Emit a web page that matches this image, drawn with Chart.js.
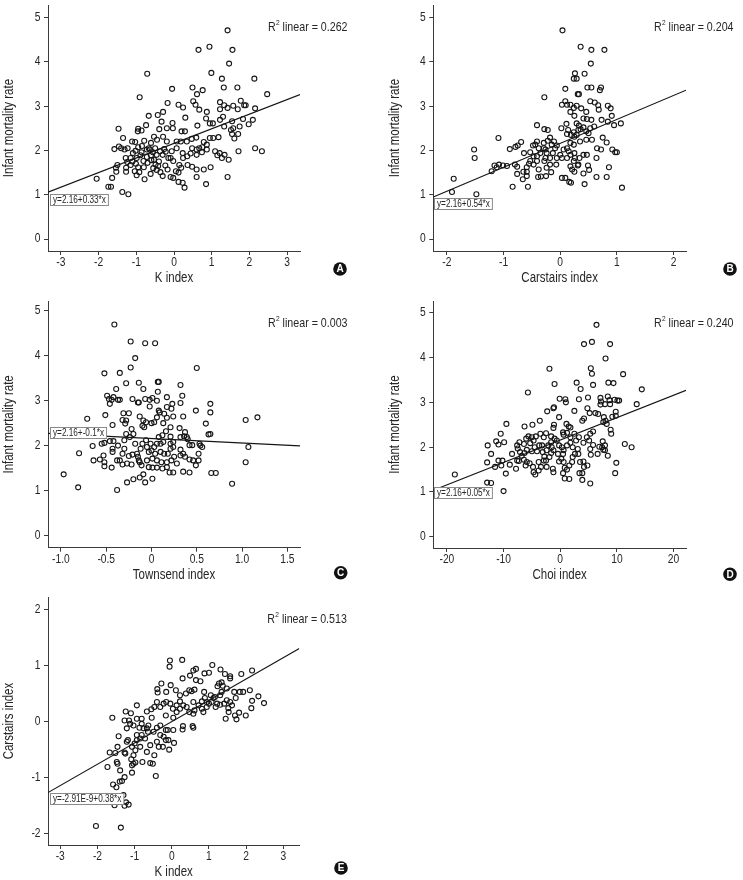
<!DOCTYPE html>
<html>
<head>
<meta charset="utf-8">
<script src="https://cdn.jsdelivr.net/npm/chart.js@4.4.1/dist/chart.umd.min.js"></script>
<style>
body{margin:0;background:#fff;width:743px;height:880px;position:relative;overflow:hidden}
canvas{position:absolute}
</style>
</head>
<body>
<canvas id="cA"></canvas>
<canvas id="cB"></canvas>
<canvas id="cC"></canvas>
<canvas id="cD"></canvas>
<canvas id="cE"></canvas>
<script>
// Arial Narrow look: Liberation Sans squeezed horizontally
var FONT = "'Liberation Sans', Arial, sans-serif";
var SQUEEZE = 0.82;

// tick values / labels
var ticksK = [-3,-2,-1,0,1,2,3];
var ticksCarstairs = [-2,-1,0,1,2];
var ticksTownsend = [-1,-0.5,0,0.5,1,1.5];
var labelsTownsend = ['-1.0','-0.5','0','0.5','1.0','1.5'];
var ticksChoi = [-20,-10,0,10,20];
var ticksImr = [0,1,2,3,4,5];

// fit lines + stats per panel (A..E)
var intercepts = [2.16, 2.16, 2.16, 2.16, -2.91e-9];
var slopes = [0.33, 0.54, -0.1, 0.05, 0.38];
var r2Values = ['0.262','0.204','0.003','0.240','0.513'];
var equations = ['y=2.16+0.33*x','y=2.16+0.54*x','y=2.16+-0.1*x','y=2.16+0.05*x','y=-2.91E-9+0.38*x'];

// A: K index vs infant mortality rate
var kImr = [[1.42,4.71],[0.65,4.27],[0.94,4.34],[1.55,4.27],[1.46,3.96],[-0.71,3.73],[0.99,3.75],[1.27,3.62],[2.13,3.62],[-0.05,3.39],[0.49,3.42],[0.76,3.36],[0.61,3.27],[1.32,3.42],[1.68,3.42],[2.47,3.27],[-0.91,3.2],[-0.17,3.07],[0.12,3.03],[0.24,2.97],[0.51,3.11],[0.57,3.03],[0.67,2.92],[1.22,3.09],[1.33,3.02],[1.42,2.96],[1.57,3.01],[1.69,2.93],[1.77,3.12],[1.86,3.02],[1.9,3.02],[2.15,2.95],[1.22,2.93],[-0.29,2.87],[-0.43,2.8],[-0.67,2.78],[-0.33,2.65],[0.3,2.74],[0.62,2.56],[0.87,2.87],[0.85,2.72],[0.95,2.61],[1.03,2.61],[1.3,2.76],[1.22,2.69],[1.33,2.54],[1.54,2.66],[1.74,2.54],[1.83,2.71],[1.98,2.59],[2.09,2.69],[-1.47,2.49],[-1.35,2.28],[-0.95,2.49],[-0.96,2.43],[-0.86,2.45],[-0.74,2.57],[-0.39,2.48],[-0.19,2.5],[-0.04,2.62],[-0.03,2.5],[0.2,2.43],[0.29,2.43],[0.47,2.26],[0.59,2.29],[0.95,2.28],[1.18,2.3],[1.51,2.46],[1.54,2.37],[1.6,2.27],[1.7,2.37],[2.15,2.05],[2.33,1.98],[1.71,1.98],[1.21,1.94],[1.09,1.98],[1.15,1.89],[1.27,1.83],[1.34,1.9],[1.45,1.79],[0.97,1.62],[0.79,1.57],[0.85,1.24],[1.42,1.4],[0.6,1.4],[0.6,1.57],[0.48,1.63],[0.36,1.67],[0.28,1.16],[0.23,1.27],[0.12,1.29],[0.12,1.5],[0.05,1.53],[0.14,1.67],[0.24,1.83],[0.35,1.87],[0.48,2.05],[0.6,2.02],[0.75,2.07],[0.87,2.13],[0.79,2.19],[0.6,1.9],[0.44,1.93],[0.07,2.05],[0.07,2.2],[-0.06,1.98],[-0.09,1.83],[-0.02,1.38],[-0.09,1.4],[-0.17,1.57],[-0.23,1.66],[-0.3,1.42],[-0.36,1.51],[-0.42,1.65],[-0.49,1.68],[-0.62,1.47],[-0.78,1.35],[-0.46,1.56],[-0.53,1.79],[-0.61,1.89],[-0.72,1.85],[-0.81,1.76],[-0.89,1.89],[-0.99,1.83],[-1.01,1.7],[-1.04,1.53],[-0.99,1.44],[-0.92,1.51],[-1.15,1.67],[-1.24,1.74],[-1.27,1.61],[-1.27,1.52],[-1.5,1.67],[-1.54,1.61],[-1.53,1.52],[-1.58,2.03],[-1.46,2.09],[-1.23,2.05],[-1.11,2.2],[-1.03,2.19],[-0.95,2.07],[-0.79,2.22],[-0.67,2.05],[-0.61,2.17],[-0.53,2.31],[-0.45,2.24],[-0.29,2.31],[-0.19,2.2],[-0.26,2.03],[-0.37,1.98],[-0.46,1.9],[-0.64,2.02],[-1.15,1.83],[-1.28,1.83],[-2.05,1.36],[-1.74,1.18],[-1.67,1.18],[-1.37,1.06],[-1.21,1.01],[-1.64,1.38],[-0.22,1.97],[-0.56,1.96],[-0.86,1.96],[-0.72,2.02],[-1.09,1.94],[-1.02,1.99],[-1.4,2.05],[-1.31,2.02],[-0.02,1.76],[-0.15,1.83],[0.19,1.61],[0.23,1.94],[0.18,2.2],[0.34,2.2],[1.04,2.28],[1.57,2.5],[0.87,2.02],[0.74,1.96],[0.67,2.05],[-0.8,1.62],[-0.7,1.72],[-0.55,1.6],[-0.4,1.75],[-0.85,2.1],[-1.1,1.75],[-0.5,2.05],[-0.3,1.9],[-0.95,1.62],[-0.6,1.78]];

// B: Carstairs index vs infant mortality rate
var carstairsImr = [[0.04,4.71],[0.36,4.34],[0.55,4.27],[0.78,4.27],[0.54,3.96],[0.26,3.74],[0.43,3.73],[0.24,3.62],[0.29,3.62],[0.09,3.39],[0.48,3.42],[0.55,3.42],[0.72,3.42],[0.7,3.36],[0.31,3.27],[0.33,3.27],[-0.28,3.2],[0.03,3.03],[0.12,3.03],[0.09,3.11],[0.18,3.03],[0.24,2.96],[0.29,3.01],[0.37,2.95],[0.46,2.87],[0.53,3.11],[0.61,3.08],[0.67,3.02],[0.68,2.92],[0.84,3.01],[0.89,2.95],[0.25,2.78],[0.18,2.87],[0.41,2.72],[0.47,2.71],[0.55,2.69],[0.73,2.69],[0.84,2.65],[0.91,2.78],[0.95,2.57],[1.07,2.61],[0.6,2.54],[0.29,2.61],[0.33,2.56],[0.11,2.6],[0.02,2.5],[0.14,2.46],[0.24,2.41],[0.36,2.48],[0.46,2.43],[0.5,2.39],[-0.41,2.57],[-0.28,2.48],[-0.22,2.46],[-1.09,2.28],[-1.52,2.02],[-1.51,1.83],[-1.88,1.36],[-1.91,1.06],[-1.48,1.01],[-0.84,1.18],[-0.57,1.18],[-0.66,1.35],[0.03,1.38],[0.09,1.38],[0.19,1.27],[0.16,1.29],[0.43,1.24],[0.64,1.4],[0.82,1.4],[1.09,1.16],[0.86,1.62],[0.41,1.48],[0.51,1.56],[0.49,1.66],[0.18,1.64],[0.21,1.57],[0.25,1.52],[0.31,1.66],[0.32,1.68],[0.41,1.9],[0.47,1.9],[0.64,1.83],[0.72,2.02],[0.65,2.05],[0.92,2.02],[0.97,1.96],[1.0,1.96],[0.82,2.18],[0.75,2.29],[0.56,2.24],[0.46,2.24],[0.35,2.2],[0.24,2.13],[0.18,2.17],[0.12,2.05],[0.06,2.02],[0,1.9],[-0.06,2.11],[-0.11,2.2],[-0.18,2.29],[-0.22,2.22],[-0.41,2.2],[-0.48,2.11],[-0.89,2.03],[-0.79,2.08],[-0.75,2.11],[-0.69,2.19],[-1.16,1.66],[-1.12,1.62],[-1.01,1.66],[-0.94,1.65],[-1.08,1.68],[-1.21,1.53],[-0.8,1.68],[-0.76,1.63],[-0.76,1.47],[-0.65,1.52],[-0.59,1.52],[-0.59,1.62],[-0.55,1.7],[-0.47,1.68],[-0.38,1.57],[-0.34,1.41],[-0.39,1.4],[-0.25,1.42],[-0.16,1.51],[-0.18,1.68],[-0.28,1.76],[-0.41,1.76],[-0.47,1.87],[-0.53,1.96],[-0.64,1.94],[-0.35,1.94],[-0.29,2.05],[-0.24,1.94],[-0.18,1.83],[-0.13,1.94],[-0.09,2.05],[-0.26,1.83],[-0.38,2.05],[-0.06,1.83],[-0.07,1.68],[0.03,1.83],[0.12,1.83],[0.18,1.9],[0.26,1.83],[0.24,1.76],[0.34,1.83],[0.15,1.98],[0.25,1.94],[0.12,2.37],[0.19,2.35],[0.25,2.31],[0.29,2.35],[0.32,2.46],[0.41,2.52],[0.53,2.5],[-0.44,2.13],[-0.29,2.17],[-0.15,2.13],[-0.26,2.02],[-0.41,1.87],[-0.53,1.76],[-0.59,1.42],[-0.24,1.61]];

// C: Townsend index vs infant mortality rate
var townsendImr = [[-0.41,4.7],[-0.23,4.32],[-0.07,4.28],[0.04,4.28],[-0.18,3.95],[-0.23,3.74],[-0.52,3.61],[-0.35,3.62],[0.5,3.73],[-0.28,3.39],[-0.14,3.4],[0.07,3.42],[0.08,3.42],[-0.39,3.26],[-0.09,3.26],[0.07,3.2],[-0.42,3.08],[-0.49,3.11],[-0.47,3.04],[-0.46,2.93],[-0.44,3.02],[-0.37,3.02],[-0.35,3.02],[-0.21,3.04],[-0.15,2.96],[-0.14,2.96],[-0.07,3.04],[-0.02,3.02],[0.01,3.06],[0.06,3.0],[0.17,3.08],[0.23,2.93],[0.22,2.82],[0.17,2.86],[0.08,2.78],[-0.02,2.87],[0.32,2.95],[0.34,3.11],[0.32,3.35],[0.35,2.65],[0.49,2.78],[0.65,2.93],[0.65,2.74],[0.6,2.49],[0.63,2.25],[0.65,2.26],[1.04,2.57],[1.17,2.63],[1.07,1.97],[1.04,1.63],[0.89,1.15],[0.66,1.39],[0.71,1.39],[-0.71,2.6],[-0.51,2.68],[-0.43,2.46],[-0.31,2.72],[-0.25,2.72],[-0.32,2.57],[-0.29,2.49],[-0.28,2.56],[-0.22,2.37],[-0.13,2.65],[-0.09,2.56],[-0.1,2.44],[-0.08,2.41],[-0.06,2.52],[0,2.5],[0.03,2.52],[0.06,2.63],[0.09,2.74],[0.14,2.71],[0.17,2.62],[0.13,2.5],[0.21,2.41],[0.24,2.65],[0.16,2.32],[0.12,2.23],[0.21,2.2],[0.31,2.39],[0.32,2.19],[0.36,2.21],[0.39,2.19],[0.37,2.3],[0.4,2.14],[0.42,2.01],[0.45,2.01],[0.53,2.04],[0.54,2.0],[0.56,1.97],[0.32,1.91],[0.35,1.82],[0.37,1.75],[0.42,1.69],[0.46,1.67],[0.52,1.67],[0.52,1.82],[0.49,1.56],[0.35,1.42],[0.42,1.4],[0.24,1.4],[0.2,1.4],[0.17,1.52],[0.12,1.49],[0.06,1.51],[0.01,1.51],[0.01,1.26],[-0.07,1.18],[-0.13,1.29],[-0.09,1.36],[-0.2,1.25],[-0.27,1.18],[-0.38,1.01],[-0.81,1.07],[-0.97,1.36],[-0.8,1.83],[-0.65,1.99],[-0.64,1.67],[-0.57,1.69],[-0.53,1.78],[-0.52,1.63],[-0.52,1.54],[-0.55,2.04],[-0.52,2.06],[-0.46,2.1],[-0.42,2.1],[-0.43,1.93],[-0.43,1.86],[-0.44,1.51],[-0.38,1.67],[-0.35,1.67],[-0.37,2.0],[-0.32,1.82],[-0.3,1.93],[-0.3,2.12],[-0.28,2.26],[-0.24,2.19],[-0.2,2.26],[-0.18,2.04],[-0.25,1.77],[-0.21,1.8],[-0.16,1.82],[-0.14,1.67],[-0.13,1.63],[-0.15,1.75],[-0.27,1.6],[-0.32,1.58],[-0.22,1.58],[-0.11,1.56],[-0.12,1.93],[-0.1,2.04],[-0.06,2.12],[-0.05,1.97],[-0.03,1.86],[-0.01,2.04],[0,1.89],[0.03,1.97],[0.04,1.82],[0.06,2.04],[0.08,2.19],[0.1,2.04],[0.13,2.08],[0.1,1.86],[0.14,1.82],[0.18,1.82],[0.21,1.93],[0.24,1.97],[0.24,2.08],[0.21,2.04],[0.22,1.67],[0.17,1.63],[0.11,1.63],[0.06,1.67],[0.01,1.71],[-0.05,1.67],[-0.03,1.52],[0.28,1.6],[0.25,1.75],[0.32,1.78]];

// D: Choi index vs infant mortality rate
var choiImr = [[6.4,4.73],[4.2,4.3],[5.6,4.35],[8.8,4.3],[8.0,3.98],[-1.9,3.75],[5.4,3.76],[5.6,3.64],[11.1,3.63],[-1.0,3.41],[2.9,3.44],[5.8,3.39],[8.5,3.44],[9.4,3.43],[3.6,3.3],[-5.7,3.22],[14.4,3.29],[13.5,2.96],[-0.1,3.08],[0.9,3.07],[1.0,3.0],[3.3,3.07],[4.9,3.11],[7.1,3.1],[7.2,3.02],[8.4,3.13],[8.7,3.05],[8.8,2.96],[9.6,3.06],[10.1,3.04],[10.4,3.04],[7.9,2.96],[7.1,2.95],[-2.3,2.8],[-1.2,2.87],[-1.1,2.89],[-0.2,2.67],[2.5,2.81],[4.8,2.87],[5.2,2.76],[6.2,2.76],[6.7,2.74],[7.7,2.67],[7.6,2.56],[8.0,2.59],[8.2,2.52],[9.2,2.68],[9.8,2.7],[9.8,2.79],[4.2,2.64],[3.9,2.59],[1.1,2.52],[1.5,2.46],[1.8,2.44],[-1.1,2.5],[-1.2,2.43],[-3.6,2.59],[-4.9,2.5],[-6.3,2.46],[-9.5,2.52],[-10.5,2.3],[-9.9,2.11],[-11.3,2.13],[-10.9,2.06],[-12.8,2.04],[-12.2,1.85],[-12.9,1.66],[-11.5,1.56],[-10.9,1.7],[-10.4,1.59],[-10.2,1.7],[-9.6,1.41],[-18.6,1.39],[-12.9,1.21],[-12.2,1.2],[-10.0,1.02],[-8.5,1.85],[-8.9,1.61],[-7.6,2.04],[-7.5,1.97],[-7.2,2.11],[-7.1,1.89],[-7.6,1.7],[-7.8,1.52],[-7.3,1.69],[-6.8,1.81],[-6.4,2.07],[-6.0,2.19],[-5.6,2.24],[-5.0,2.22],[-4.3,2.24],[-4.7,2.15],[-5.3,2.09],[-5.9,1.94],[-6.3,1.87],[-6.4,1.72],[-5.9,1.67],[-5.4,1.64],[-6.1,1.59],[-5.0,1.91],[-4.5,2.0],[-4.1,1.91],[-3.7,2.04],[-3.2,2.04],[-2.9,2.22],[-3.5,2.3],[-2.5,2.31],[-1.6,2.24],[-1.6,2.11],[-1.0,2.19],[-0.6,2.15],[-2.1,2.04],[-3.1,1.89],[-2.8,1.79],[-2.5,1.7],[-2.9,1.7],[-3.8,1.67],[-4.8,1.56],[-4.7,1.44],[-4.4,1.39],[-3.8,1.48],[-3.4,1.56],[-2.4,1.56],[-1.3,1.52],[-1.2,1.44],[-1.9,1.78],[-1.6,1.87],[-1.2,1.93],[-0.4,1.85],[-0.2,2.04],[0.3,2.0],[0.6,1.93],[1.2,2.04],[1.8,2.22],[0.6,2.28],[0.5,2.33],[1.2,2.32],[1.8,2.1],[2.2,2.0],[2.5,2.3],[-0.2,1.68],[0.2,1.74],[0.5,1.85],[0.6,1.67],[0.8,1.54],[0.5,1.42],[0.8,1.3],[1.6,1.29],[1.2,1.5],[1.6,1.59],[2.1,1.67],[2.2,1.78],[2.6,1.85],[3.1,1.96],[3.2,1.85],[3.5,1.67],[3.4,1.42],[4.1,1.68],[4.2,1.56],[3.9,1.42],[3.9,1.27],[4.8,1.59],[5.3,1.19],[5.4,1.83],[5.3,1.96],[5.8,2.05],[5.1,2.15],[4.7,2.22],[5.3,2.3],[5.8,2.35],[4.1,2.1],[6.6,1.85],[6.9,2.01],[7.5,2.13],[7.4,2.0],[7.6,1.94],[7.9,1.93],[8.4,1.81],[7.9,2.04],[8.9,2.39],[9.0,2.3],[9.9,1.65],[9.7,1.42],[11.4,2.07],[12.6,2.0],[3.3,2.22],[2.8,2.15],[-1.5,2.0],[-2.4,1.93]];

// E: K index vs Carstairs index
var kCarstairs = [[-0.05,1.09],[0.28,1.1],[-0.06,0.98],[1.09,1.01],[0.65,0.94],[0.58,0.91],[1.0,0.87],[0.88,0.86],[1.31,0.93],[1.43,0.85],[1.57,0.81],[1.57,0.77],[1.87,0.85],[2.16,0.91],[0.49,0.82],[0.65,0.74],[0.77,0.72],[0.29,0.77],[-0.28,0.68],[-0.03,0.65],[1.34,0.7],[1.27,0.68],[1.23,0.63],[1.37,0.64],[1.34,0.53],[1.48,0.59],[-0.39,0.58],[-0.38,0.52],[-0.15,0.53],[0.11,0.56],[0.22,0.47],[0.38,0.5],[0.47,0.56],[0.53,0.54],[0.61,0.57],[0.87,0.53],[1.05,0.47],[1.12,0.42],[0.89,0.42],[1.68,0.53],[1.72,0.42],[1.83,0.53],[1.92,0.53],[2.1,0.56],[2.33,0.45],[2.48,0.33],[2.16,0.37],[2.14,0.24],[1.57,0.35],[1.62,0.29],[1.81,0.16],[1.7,0.11],[1.74,0.04],[1.99,0.11],[1.45,0.05],[1.53,0.17],[1.52,0.24],[1.41,0.32],[1.48,0.38],[1.22,0.32],[1.0,0.32],[0.94,0.35],[0.81,0.36],[0.72,0.29],[0.58,0.35],[0.61,0.2],[0.47,0.17],[0.58,0.14],[0.4,0.26],[0.31,0.29],[0.22,0.23],[0.13,0.29],[0.03,0.23],[-0.04,0.32],[-0.15,0.35],[-0.22,0.32],[-0.31,0.26],[-0.47,0.26],[-0.4,0.35],[-0.55,0.22],[-0.67,0.18],[-0.94,0.29],[-1.1,0.15],[-1.24,0.18],[-1.6,0.07],[-1.27,0.02],[-1.15,0.02],[-1.12,-0.04],[-0.94,0.05],[-1.03,-0.07],[-0.87,-0.11],[-0.76,-0.12],[-0.67,-0.12],[-0.63,-0.07],[-0.49,-0.18],[-0.4,-0.11],[-0.31,-0.07],[-0.16,-0.15],[-0.11,-0.15],[0.04,-0.15],[0.29,-0.14],[0.3,-0.08],[0.56,-0.08],[0.58,-0.11],[-0.81,-0.04],[-1.21,-0.12],[-0.94,-0.24],[-0.81,-0.24],[-0.64,-0.18],[-0.72,-0.3],[-0.85,-0.3],[-0.94,-0.33],[-1.0,-0.39],[-1.18,-0.33],[-1.21,-0.36],[-1.07,-0.45],[-0.98,-0.51],[-0.85,-0.45],[-0.67,-0.54],[-0.58,-0.42],[-0.4,-0.36],[-0.31,-0.24],[-0.22,-0.27],[-0.16,-0.33],[-0.09,-0.33],[0.06,-0.38],[-0.07,-0.5],[-0.24,-0.45],[-0.35,-0.45],[-0.47,-0.6],[-0.58,-0.74],[-0.51,-0.75],[-0.79,-0.72],[-0.98,-0.73],[-1.07,-0.78],[-1.03,-0.6],[-1.09,-0.67],[-1.25,-0.57],[-1.27,-0.55],[-1.46,-0.45],[-1.43,-0.26],[-1.67,-0.55],[-1.52,-0.56],[-1.48,-0.72],[-1.46,-0.75],[-1.73,-0.81],[-1.39,-0.87],[-1.27,-0.99],[-1.07,-0.91],[-0.43,-0.97],[-1.34,-1.06],[-1.4,-1.07],[-1.58,-1.12],[-1.49,-1.17],[-1.3,-1.31],[-1.23,-1.44],[-1.16,-1.48],[-1.27,-1.5],[-1.54,-1.49],[-2.04,-1.86],[-1.37,-1.89],[-1.03,-0.75],[0.04,0.07],[-0.16,0.11],[-0.54,0.07],[-0.81,0.05],[0.13,0.17],[0.22,0.36],[0.81,0.23],[0.85,0.17],[0.94,0.26],[1.07,0.35],[1.16,0.44],[1.3,0.47],[1.18,0.26],[1.3,0.3]];

// layout of the five panels (page pixels)
var panels = [
  {id:'cA', letter:'A', pts:kImr, xTitle:'K index', yTitle:'Infant mortality rate', xTicks:ticksK, yTicks:ticksImr,
   xMin:-3.34, xMax:3.34, yMin:-0.27, yMax:5.28,
   box:{left:0, top:0, w:360, h:286}, area:{l:48, t:2, r:300, b:251}, badge:[340,269], eqDx:2.3, eqDy:2},
  {id:'cB', letter:'B', pts:carstairsImr, xTitle:'Carstairs index', yTitle:'Infant mortality rate', xTicks:ticksCarstairs, yTicks:ticksImr,
   xMin:-2.24, xMax:2.22, yMin:-0.27, yMax:5.28,
   box:{left:385, top:0, w:358, h:286}, area:{l:433.3, t:2, r:686, b:251}, badge:[730,269], eqDx:0.7, eqDy:1},
  {id:'cC', letter:'C', pts:townsendImr, xTitle:'Townsend index', yTitle:'Infant mortality rate', xTicks:ticksTownsend, xLabels:labelsTownsend, yTicks:ticksImr,
   xMin:-1.143, xMax:1.64, yMin:-0.275, yMax:5.22,
   box:{left:0, top:296, w:360, h:288}, area:{l:48, t:300, r:300, b:547.7}, badge:[340.7,572.7], eqDx:2.3, eqDy:-6},
  {id:'cD', letter:'D', pts:choiImr, xTitle:'Choi index', yTitle:'Infant mortality rate', xTicks:ticksChoi, yTicks:ticksImr,
   xMin:-22.4, xMax:22.2, yMin:-0.25, yMax:5.26,
   box:{left:385, top:296, w:358, h:288}, area:{l:433.3, t:300, r:686, b:548}, badge:[730,574.3], eqDx:0.7, eqDy:-3},
  {id:'cE', letter:'E', pts:kCarstairs, xTitle:'K index', yTitle:'Carstairs index', xTicks:ticksK, yTicks:ticksCarstairs,
   xMin:-3.33, xMax:3.43, yMin:-2.2, yMax:2.22,
   box:{left:0, top:592, w:360, h:288}, area:{l:48, t:596.7, r:299.3, b:845}, badge:[341,868], eqDx:2.3, eqDy:0}
];

var TEXT = '#262626';
var AXIS = '#3a3a3a';

// narrow text helper
function narrowText(ctx, txt, x, y, size, align, rot) {
  ctx.save();
  ctx.translate(x, y);
  if (rot) ctx.rotate(rot);
  ctx.scale(SQUEEZE, 1);
  ctx.font = size + 'px ' + FONT;
  ctx.textAlign = align || 'center';
  ctx.textBaseline = 'middle';
  ctx.fillText(txt, 0, 0);
  var w = ctx.measureText(txt).width * SQUEEZE;
  ctx.restore();
  return w;
}

var panelDecor = {
  id: 'panelDecor',
  afterDraw: function(chart, args, o) {
    var ctx = chart.ctx, ca = chart.chartArea;
    var xs = chart.scales.x, ys = chart.scales.y;
    ctx.save();
    ctx.fillStyle = TEXT;
    // tick labels
    o.xTicks.forEach(function(v, k){
      narrowText(ctx, o.xLabels[k], xs.getPixelForValue(v), ca.bottom + 11.8, 12.5, 'center');
    });
    o.yTicks.forEach(function(v){
      narrowText(ctx, String(v), ca.left - 7.5, ys.getPixelForValue(v), 12.5, 'right');
    });
    // axis titles
    narrowText(ctx, o.xTitle, (ca.left + ca.right) / 2, ca.bottom + 27, 14, 'center');
    narrowText(ctx, o.yTitle, ca.left - 38.5, (ca.top + ca.bottom) / 2, 14, 'center', -Math.PI / 2);
    // R2 text
    var tx = ca.right - 32, ty = ca.top + 22;
    var w = narrowText(ctx, 'R', tx, ty, 13, 'left');
    var w2 = narrowText(ctx, '2', tx + w + 0.3, ty - 4, 8, 'left');
    narrowText(ctx, ' linear = ' + o.r2, tx + w + w2 + 0.3, ty, 13, 'left');
    // equation box
    var ly = ys.getPixelForValue(o.a + o.b * o.xMin);
    ctx.font = '10px ' + FONT;
    var ew = ctx.measureText(o.eq).width * SQUEEZE + 5;
    var bx = Math.round(ca.left + o.dx) + 0.5, by = Math.round(ly + o.dy) + 0.5;
    ctx.fillStyle = '#fff';
    ctx.fillRect(bx, by, ew, 11);
    ctx.strokeStyle = '#8a8a8a';
    ctx.lineWidth = 1;
    ctx.strokeRect(bx, by, ew, 11);
    ctx.fillStyle = TEXT;
    narrowText(ctx, o.eq, bx + 2.5, by + 6, 10, 'left');
    // panel letter
    ctx.beginPath();
    ctx.arc(o.badge[0], o.badge[1], 6.8, 0, Math.PI * 2);
    ctx.fillStyle = '#111';
    ctx.fill();
    ctx.fillStyle = '#fff';
    ctx.font = 'bold 10px ' + FONT;
    ctx.textAlign = 'center';
    ctx.textBaseline = 'middle';
    ctx.fillText(o.letter, o.badge[0], o.badge[1] + 0.5);
    ctx.restore();
  }
};

function makePanel(p, i) {
  var cv = document.getElementById(p.id);
  cv.width = p.box.w;
  cv.height = p.box.h;
  cv.style.left = p.box.left + 'px';
  cv.style.top = p.box.top + 'px';
  var aL = p.area.l - p.box.left, aT = p.area.t - p.box.top;
  var aR = p.area.r - p.box.left, aB = p.area.b - p.box.top;
  var a = intercepts[i], b = slopes[i];

  var axisCommon = {
    type: 'linear',
    grid: {drawOnChartArea: false, drawTicks: true, tickLength: 4, color: AXIS, lineWidth: 1},
    border: {display: true, color: AXIS, width: 1},
    ticks: {display: false}
  };

  return new Chart(cv.getContext('2d'), {
    type: 'scatter',
    data: {
      datasets: [{
        data: p.pts.map(function(q){ return {x: q[0], y: q[1]}; }),
        pointRadius: 2.5,
        pointBorderWidth: 1.1,
        pointBorderColor: '#161616',
        pointBackgroundColor: 'rgba(0,0,0,0)'
      }, {
        data: [{x: p.xMin, y: a + b * p.xMin}, {x: p.xMax, y: a + b * p.xMax}],
        showLine: true,
        pointRadius: 0,
        borderColor: '#151515',
        borderWidth: 1.2
      }]
    },
    options: {
      responsive: false,
      animation: false,
      events: [],
      layout: {padding: {left: 0, top: aT, right: p.box.w - aR, bottom: 0}},
      plugins: {
        legend: {display: false},
        tooltip: {enabled: false},
        panelDecor: {r2: r2Values[i], eq: equations[i], a: a, b: b, xMin: p.xMin, dx: p.eqDx, dy: p.eqDy,
          letter: p.letter, badge: [p.badge[0] - p.box.left, p.badge[1] - p.box.top],
          xTicks: p.xTicks, xLabels: p.xLabels || p.xTicks.map(String), yTicks: p.yTicks,
          xTitle: p.xTitle, yTitle: p.yTitle}
      },
      scales: {
        x: Object.assign({}, axisCommon, {
          min: p.xMin, max: p.xMax,
          afterBuildTicks: function(s){ s.ticks = p.xTicks.map(function(v){ return {value: v}; }); },
          afterFit: function(s){ s.height = p.box.h - aB; }
        }),
        y: Object.assign({}, axisCommon, {
          min: p.yMin, max: p.yMax,
          afterBuildTicks: function(s){ s.ticks = p.yTicks.map(function(v){ return {value: v}; }); },
          afterFit: function(s){ s.width = aL; }
        })
      }
    },
    plugins: [panelDecor]
  });
}

panels.forEach(function(p, i){ makePanel(p, i); });
</script>
</body>
</html>
